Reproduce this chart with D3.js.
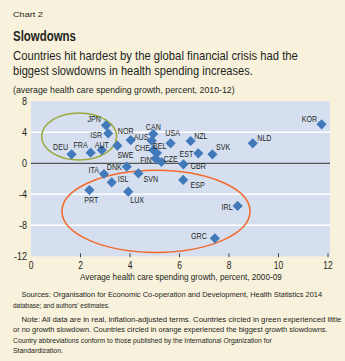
<!DOCTYPE html>
<html>
<head>
<meta charset="utf-8">
<script src="https://cdn.jsdelivr.net/npm/d3@7"></script>
<style>
  html, body { margin: 0; padding: 0; background: #f8f2dd; }
  svg { display: block; }
  text { font-family: "Liberation Sans", Arial, sans-serif; fill: #231f20; }
</style>
</head>
<body>
<div id="chart"></div>
<script>
// country codes, x = avg growth 2000-09, y = avg growth 2010-12
var countries = ["JPN","ISR","AUT","FRA","DEU","NOR","SWE","AUS","CAN","CHE","BEL","FIN","CZE","USA",
  "DNK","ITA","SVN","ISL","PRT","LUX","KOR","NZL","NLD","EST","SVK","GBR","ESP","IRL","GRC"];
var growth0009 = [3.03,3.12,2.86,2.41,1.64,4.03,3.49,4.88,4.94,4.94,5.09,5.03,5.27,5.64,
  3.87,2.95,4.34,3.26,2.36,3.93,11.74,6.45,8.96,6.76,7.33,6.16,6.15,8.35,7.43];
var growth1012 = [4.9,3.87,1.7,1.37,1.16,3.0,2.27,2.92,3.78,1.72,1.33,0.62,0.17,2.58,
  -0.44,-1.38,-1.29,-2.45,-3.45,-3.66,5.03,2.88,2.58,1.29,1.16,-0.13,-2.15,-5.5,-9.68];
var xTicks = [0,2,4,6,8,10,12];
var yTicks = [8,4,0,-4,-8,-12];

// label placement next to each diamond [dx, dy, anchor]
var labelPos = {
  JPN:[-5,-3,"end"], ISR:[-6,4.5,"end"], AUT:[0,-2,"middle"], FRA:[-3,-4.5,"end"], DEU:[-3.5,-4,"end"],
  NOR:[-5,-6,"middle"], SWE:[0,12,"start"], AUS:[-3.4,-1,"end"], CAN:[0,-4,"middle"], CHE:[-3.3,0.7,"end"],
  BEL:[-4,-4.3,"start"], FIN:[-3.8,4.5,"end"], CZE:[2,0,"start"], USA:[2,-7.6,"middle"], DNK:[-5,3.3,"end"],
  ITA:[-5,-1,"end"], SVN:[5,8.7,"start"], ISL:[6,0,"start"], PRT:[2,13,"middle"], LUX:[2,11.5,"start"],
  KOR:[-4.5,-2,"end"], NZL:[3.5,-2,"start"], NLD:[4.5,-2,"start"], EST:[-5,4,"end"], SVK:[3.5,-4,"start"],
  GBR:[7,5,"start"], ESP:[7.4,8.3,"start"], IRL:[-5,4,"end"], GRC:[-8,1,"end"]
};

var width = 345, height = 361;
var svg = d3.select('#chart').append('svg')
  .attr('width', width)
  .attr('height', height);

// text squeezed sideways, the original face is a condensed gothic
function narrow(str, px, py, size, sx, anchor) {
  return svg.append('text')
    .attr('transform', 'translate(' + px + ',' + py + ') scale(' + sx + ',1)')
    .attr('text-anchor', anchor || 'start')
    .attr('font-size', size + 'px')
    .text(str);
}
// text squeezed to the width it has in the original
function fitted(str, px, py, size, w, weight) {
  var t = narrow(str, px, py, size, 1);
  if (weight) t.attr('font-weight', weight);
  var natural = t.node().getComputedTextLength();
  t.attr('transform', 'translate(' + px + ',' + py + ') scale(' + (w / natural) + ',1)');
  return t;
}

// titles
fitted('Chart 2', 13, 17.3, 8, 30);
fitted('Slowdowns', 13, 40.5, 14, 63, 'bold');
fitted('Countries hit hardest by the global financial crisis had the', 13, 59.5, 13, 285);
fitted('biggest slowdowns in health spending increases.', 13, 74.5, 13, 240);
fitted('(average health care spending growth, percent, 2010-12)', 13, 92.5, 9.5, 222);

var x = d3.scaleLinear().domain([0,12]).range([31,328]);
var y = d3.scaleLinear().domain([-12,8]).range([256.3,101.3]);

// plot area
svg.append('rect')
  .attr('x', x(0)).attr('y', y(8))
  .attr('width', x(12) - x(0) + 2).attr('height', y(-12) - y(8))
  .attr('fill', '#d5dff0');

// gridlines
svg.selectAll('.grid')
  .data(yTicks.filter(function(d){ return d != 8 && d != -12; }))
  .enter().append('line')
  .attr('x1', x(0)).attr('x2', x(12) + 2)
  .attr('y1', function(d){ return y(d); }).attr('y2', function(d){ return y(d); })
  .attr('stroke', function(d){ return d == 0 ? '#555' : '#fff'; })
  .attr('stroke-width', function(d){ return d == 0 ? 1.2 : 1.5; });

// y tick labels
yTicks.forEach(function(d){
  narrow(d, 27, y(d) + 4, 10, 0.9, 'end');
});

// x axis ticks + labels
svg.selectAll('.xtick')
  .data(xTicks.filter(function(d){ return d > 0; }))
  .enter().append('line')
  .attr('x1', function(d){ return x(d); }).attr('x2', function(d){ return x(d); })
  .attr('y1', y(-12) - 3).attr('y2', y(-12) + 1)
  .attr('stroke', '#444').attr('stroke-width', 1);
xTicks.forEach(function(d){
  narrow(d, x(d), 269.3, 10, 0.85, 'middle');
});
fitted('Average health care spending growth, percent, 2000-09', 80, 279.5, 9.5, 202);

// ellipses (bounds in data units)
var rings = [
  {x0:0.43, x1:3.46, y0:0.43, y1:6.5, color:'#9aa83a'},
  {x0:1.25, x1:8.85, y0:-11.5, y1:-0.9, color:'#f26b2a'}
];
svg.selectAll('.ring')
  .data(rings)
  .enter().append('ellipse')
  .attr('cx', function(d){ return (x(d.x0) + x(d.x1)) / 2; })
  .attr('cy', function(d){ return (y(d.y0) + y(d.y1)) / 2; })
  .attr('rx', function(d){ return (x(d.x1) - x(d.x0)) / 2; })
  .attr('ry', function(d){ return (y(d.y0) - y(d.y1)) / 2; })
  .attr('fill','none').attr('stroke', function(d){ return d.color; }).attr('stroke-width', 1.5);

// points
var pts = countries.map(function(c,i){ return {name:c, gx:growth0009[i], gy:growth1012[i]}; });
var diamond = d3.symbol().type(d3.symbolSquare).size(52);
svg.selectAll('.pt')
  .data(pts)
  .enter().append('path')
  .attr('d', diamond)
  .attr('transform', function(d){ return 'translate(' + x(d.gx) + ',' + y(d.gy) + ') rotate(45)'; })
  .attr('fill', '#4279bb');

pts.forEach(function(d){
  var p = labelPos[d.name];
  narrow(d.name, x(d.gx) + p[0], y(d.gy) + p[1], 9.5, 0.75, p[2]);
});

// footnotes
var notes = [
  {t:'Sources: Organisation for Economic Co-operation and Development, Health Statistics 2014', x:21.5, y:296.5, w:301},
  {t:'database; and authors\u2019 estimates.', x:13, y:307.5, w:97},
  {t:'Note: All data are in real, inflation-adjusted terms. Countries circled in green experienced little', x:21.5, y:321.5, w:320},
  {t:'or no growth slowdown. Countries circled in orange experienced the biggest growth slowdowns.', x:13, y:331.8, w:315},
  {t:'Country abbreviations conform to those published by the International Organization for', x:13, y:342.5, w:259},
  {t:'Standardization.', x:13, y:353.2, w:50}
];
notes.forEach(function(d){ fitted(d.t, d.x, d.y, 8, d.w); });
</script>
</body>
</html>
